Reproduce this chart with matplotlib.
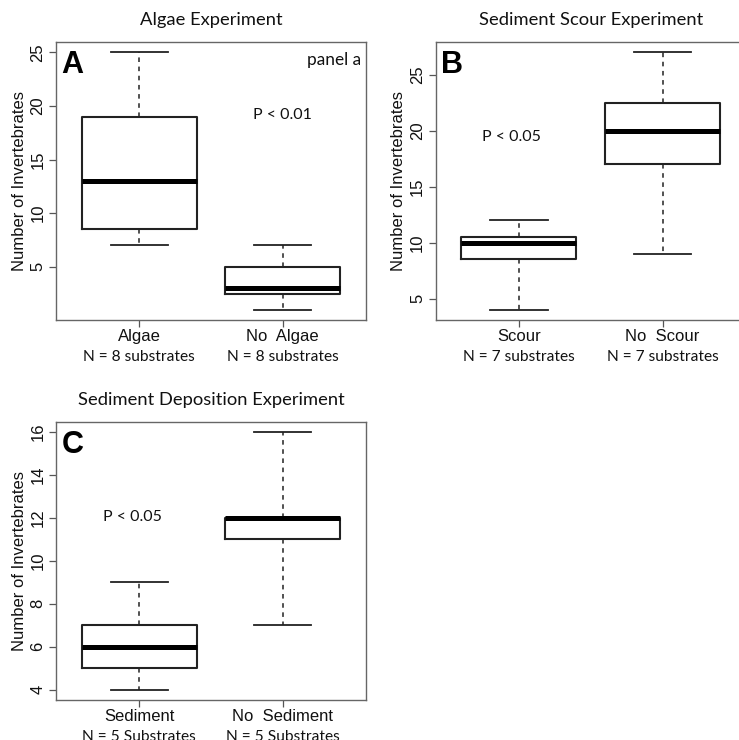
import matplotlib
matplotlib.use("Agg")
import matplotlib.pyplot as plt

# ---------------- data ----------------
titles = ["Algae Experiment", "Sediment Scour Experiment", "Sediment Deposition Experiment"]
letters = ["A", "B", "C"]
groups_a = ["Algae", "No  Algae"]
groups_b = ["Scour", "No  Scour"]
groups_c = ["Sediment", "No  Sediment"]
n_labels_a = ["N = 8 substrates", "N = 8 substrates"]
n_labels_b = ["N = 7 substrates", "N = 7 substrates"]
n_labels_c = ["N = 5 Substrates", "N = 5 Substrates"]

# (whisker low, q1, median, q3, whisker high)
whislo_a = [7, 1]
q1_a = [8.5, 2.5]
med_a = [13, 3]
q3_a = [19, 5]
whishi_a = [25, 7]

whislo_b = [4, 9]
q1_b = [8.5, 17]
med_b = [10, 20]
q3_b = [10.5, 22.5]
whishi_b = [12, 27]

whislo_c = [4, 7]
q1_c = [5, 11]
med_c = [6, 12]
q3_c = [7, 12]
whishi_c = [9, 16]

yticks_a = [5, 10, 15, 20, 25]
yticks_b = [5, 10, 15, 20, 25]
yticks_c = [4, 6, 8, 10, 12, 14, 16]

p_texts = ["P < 0.01", "P < 0.05", "P < 0.05"]
p_pos = [(2.0, 19.2), (0.95, 19.4), (0.95, 12.05)]

# ---------------- style ----------------
ARIAL = "Liberation Sans"
CAL = "Lato"
W, H = 739, 740
fig = plt.figure(figsize=(W / 100, H / 100), dpi=100)


def px_axes(x0, y0, x1, y1):
    return fig.add_axes([x0 / W, 1 - y1 / H, (x1 - x0) / W, (y1 - y0) / H])


def panel(ax, groups, nlabels, wlo, q1, med, q3, whi, yticks, title, letter,
          ptext, ppos, ylab_x):
    stats = []
    for i in range(len(groups)):
        stats.append(dict(whislo=wlo[i], q1=q1[i], med=med[i], q3=q3[i],
                          whishi=whi[i], fliers=[]))
    ax.bxp(stats, positions=[1, 2], widths=0.8, capwidths=0.4,
           showfliers=False, patch_artist=False,
           boxprops=dict(color="#222222", linewidth=1.5),
           medianprops=dict(color="black", linewidth=3.6, solid_capstyle="butt"),
           whiskerprops=dict(color="#222222", linewidth=1.1, linestyle=(0, (3.0, 3.0))),
           capprops=dict(color="#222222", linewidth=1.3))
    lo = min(wlo)
    hi = max(whi)
    r = hi - lo
    ax.set_ylim(lo - 0.04 * r, hi + 0.04 * r)
    ax.set_xlim(0.42, 2.58)
    ax.set_xticks([1, 2])
    ax.set_xticklabels(groups, fontfamily=ARIAL, fontsize=12)
    ax.set_yticks(yticks)
    ax.set_yticklabels([str(t) for t in yticks], fontfamily=ARIAL, fontsize=12,
                       rotation=90, va="center")
    ax.tick_params(axis="both", length=5, width=0.9, color="#555555",
                   labelcolor="#111111")
    ax.tick_params(axis="x", pad=1.5)
    ax.tick_params(axis="y", pad=2.5)
    for s in ax.spines.values():
        s.set_color("#666666")
        s.set_linewidth(1.0)
    ax.set_ylabel("Number of Invertebrates", fontfamily=ARIAL, fontsize=12,
                  color="#111111")
    ax.yaxis.set_label_coords(ylab_x, 0.5)
    for i, t in enumerate(nlabels):
        ax.annotate(t, xy=(i + 1, -0.132), xycoords=("data", "axes fraction"),
                    ha="center", va="center", fontfamily=CAL, fontsize=11.2,
                    color="#111111", annotation_clip=False)
    ax.set_title(title, fontfamily=CAL, fontsize=13.2, color="#111111", pad=12)
    ax.text(0.017, 0.97, letter, transform=ax.transAxes, ha="left", va="top",
            fontfamily=ARIAL, fontweight="bold", fontsize=22, color="black")
    ax.text(ppos[0], ppos[1], ptext, ha="center", va="center", fontfamily=CAL,
            fontsize=11.5, color="#111111")


axA = px_axes(56, 42, 366, 320)
panel(axA, groups_a, n_labels_a, whislo_a, q1_a, med_a, q3_a, whishi_a,
      yticks_a, titles[0], letters[0], p_texts[0], p_pos[0], -0.093)
axA.text(0.985, 0.935, "panel a", transform=axA.transAxes, ha="right", va="center",
         fontfamily=CAL, fontsize=12.4, color="#111111")

axB = px_axes(435.5, 42, 746, 320)
panel(axB, groups_b, n_labels_b, whislo_b, q1_b, med_b, q3_b, whishi_b,
      yticks_b, titles[1], letters[1], p_texts[1], p_pos[1], -0.095)

axC = px_axes(56, 421.7, 366, 700)
panel(axC, groups_c, n_labels_c, whislo_c, q1_c, med_c, q3_c, whishi_c,
      yticks_c, titles[2], letters[2], p_texts[2], p_pos[2], -0.093)

fig.savefig("out.png", dpi=100)
